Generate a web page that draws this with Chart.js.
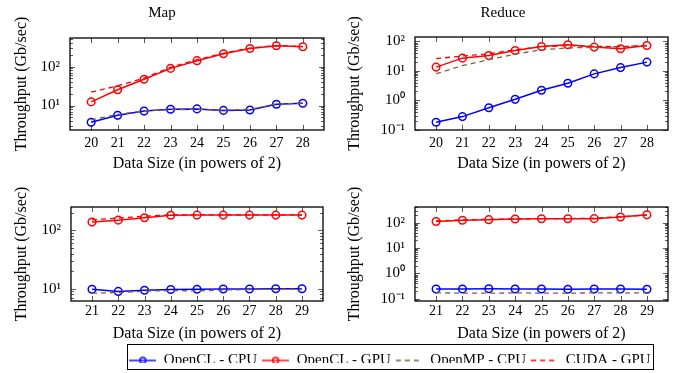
<!DOCTYPE html>
<html>
<head>
<meta charset="utf-8">
<script src="https://cdn.jsdelivr.net/npm/chart.js@4.4.1/dist/chart.umd.min.js"></script>
<style>
  body { margin: 0; background: #fff; width: 677px; height: 373px; position: relative; overflow: hidden; }
  canvas { position: absolute; }
  #legendBox { position: absolute; left: 127px; top: 344px; width: 525px; height: 24px; border: 1px solid #000; overflow: hidden; }
</style>
</head>
<body>
<canvas id="mapTop" width="338" height="175" style="left:0px;top:0px"></canvas>
<canvas id="reduceTop" width="339" height="175" style="left:338px;top:0px"></canvas>
<canvas id="mapBottom" width="338" height="170" style="left:0px;top:175px"></canvas>
<canvas id="reduceBottom" width="339" height="170" style="left:338px;top:175px"></canvas>
<div id="legendBox"><canvas id="legend" width="600" height="30" style="left:-38px;top:3px"></canvas></div>
<script>
// data sizes (powers of 2)
const sizesTop = [20, 21, 22, 23, 24, 25, 26, 27, 28];
const sizesBottom = [21, 22, 23, 24, 25, 26, 27, 28, 29];

// Map (top left), Gb/sec
const mapOclCpu  = [3.7, 5.6, 7.2, 8.0, 8.2, 7.5, 7.7, 10.8, 11.4];
const mapOclGpu  = [12.4, 25.5, 47.5, 90, 142, 214, 292, 342, 323];
const mapOmpCpu  = [4.3, 5.9, 7.3, 7.8, 8.0, 7.6, 8.0, 11.0, 11.5];
const mapCudaGpu = [22, 32, 51, 96, 150, 220, 300, 345, 330];

// Reduce (top right)
const redOclCpu  = [0.18, 0.28, 0.56, 1.08, 2.2, 3.8, 7.9, 12.9, 19.8];
const redOclGpu  = [13.4, 27, 33, 49, 67, 77, 64, 56, 73];
const redOmpCpu  = [8, 15, 24, 37, 52, 60, 63, 67, 72];
const redCudaGpu = [26, 32, 38, 52, 66, 72, 68, 66, 72];

// bottom left
const map2OclCpu  = [9.8, 9.0, 9.4, 9.7, 9.8, 9.9, 9.9, 10.0, 10.0];
const map2OclGpu  = [139, 150, 165, 182, 183, 183, 183, 183, 183];
const map2OmpCpu  = [8.4, 8.6, 9.1, 9.3, 9.2, 9.5, 9.7, 9.8, 9.9];
const map2CudaGpu = [152, 163, 175, 185, 185, 185, 184, 184, 184];

// bottom right
const red2OclCpu  = [0.24, 0.24, 0.245, 0.24, 0.24, 0.235, 0.24, 0.24, 0.235];
const red2OclGpu  = [112, 125, 132, 140, 143, 144, 145, 168, 205];
const red2OmpCpu  = [0.17, 0.165, 0.165, 0.17, 0.165, 0.165, 0.17, 0.17, 0.17];
const red2CudaGpu = [118, 130, 136, 142, 145, 146, 150, 175, 200];

const seriesNames = ['OpenCL - CPU', 'OpenCL - GPU', 'OpenMP - CPU', 'CUDA - GPU'];
const seriesColors = ['#0000ff', '#ff0000', '#80603a', '#ff0000'];
const seriesDash = [[], [], [5, 4], [5, 4]];
const seriesMarker = [true, true, false, false];

Chart.defaults.font.family = "'Liberation Serif', 'Times New Roman', serif";
Chart.defaults.color = '#000';

const SUP = { '-': '\u207B', '0': '\u2070', '1': '\u00B9', '2': '\u00B2', '3': '\u00B3',
  '4': '\u2074', '5': '\u2075', '6': '\u2076', '7': '\u2077', '8': '\u2078', '9': '\u2079' };
function isPow10(v) {
  const e = Math.log10(v);
  return Math.abs(e - Math.round(e)) < 1e-9;
}
function pow10Label(v) {
  const e = String(Math.round(Math.log10(v)));
  return '10' + e.split('').map(c => SUP[c]).join('');
}

// box with inward ticks on all four sides, like pgfplots
const frame = {
  id: 'frame',
  beforeDatasetsDraw(chart) {
    const { ctx, chartArea: a, scales: { x, y } } = chart;
    ctx.save();
    ctx.strokeStyle = '#333';
    ctx.lineWidth = 0.8;
    ctx.beginPath();
    y.ticks.forEach(t => {
      const py = Math.round(y.getPixelForValue(t.value)) + 0.5;
      const len = isPow10(t.value) ? 5 : 3;
      ctx.moveTo(a.left, py); ctx.lineTo(a.left + len, py);
      ctx.moveTo(a.right, py); ctx.lineTo(a.right - len, py);
    });
    x.ticks.forEach(t => {
      const px = Math.round(x.getPixelForValue(t.value)) + 0.5;
      ctx.moveTo(px, a.bottom); ctx.lineTo(px, a.bottom - 5);
      ctx.moveTo(px, a.top); ctx.lineTo(px, a.top + 5);
    });
    ctx.stroke();
    ctx.restore();
  },
  afterDraw(chart) {
    const { ctx, chartArea: a } = chart;
    ctx.save();
    ctx.strokeStyle = '#000';
    ctx.lineWidth = 1.3;
    ctx.strokeRect(a.left, a.top, a.right - a.left, a.bottom - a.top);
    ctx.restore();
  }
};

function logLimits(series) {
  const all = series.flat();
  const lo = Math.log10(Math.min(...all));
  const hi = Math.log10(Math.max(...all));
  const pad = (hi - lo) * 0.1;
  return [Math.pow(10, lo - pad), Math.pow(10, hi + pad)];
}

function makePanel(id, title, sizes, series, lay) {
  const [ymin, ymax] = logLimits(series);
  const datasets = series.map((vals, i) => ({
    label: seriesNames[i],
    data: sizes.map((s, j) => ({ x: s, y: vals[j] })),
    borderColor: seriesColors[i],
    borderWidth: seriesMarker[i] ? 1.5 : 1.3,
    borderDash: seriesDash[i],
    pointRadius: seriesMarker[i] ? 3.8 : 0,
    pointBorderWidth: 1.5,
    pointBorderColor: seriesColors[i],
    pointBackgroundColor: 'rgba(0,0,0,0)',
    fill: false,
    tension: 0,
    order: -i
  }));
  return new Chart(document.getElementById(id), {
    type: 'line',
    data: { datasets },
    plugins: [frame],
    options: {
      responsive: false,
      animation: false,
      devicePixelRatio: 1,
      layout: { padding: { left: 0, right: lay.right, top: lay.top, bottom: 0 } },
      plugins: {
        legend: { display: false },
        tooltip: { enabled: false },
        title: {
          display: !!title,
          text: title,
          font: { size: 15, weight: 'normal' },
          padding: { top: 4, bottom: lay.titleGap }
        }
      },
      scales: {
        x: {
          type: 'linear',
          bounds: 'data',
          min: sizes[0] - 0.8,
          max: sizes[sizes.length - 1] + 0.8,
          grid: { display: false, drawTicks: false },
          border: { display: false },
          afterBuildTicks: sc => { sc.ticks = sizes.map(v => ({ value: v })); },
          afterFit: sc => { sc.height = lay.xh; },
          ticks: { autoSkip: false, maxRotation: 0, padding: lay.tickPad, font: { size: 14 } },
          title: {
            display: true,
            text: 'Data Size (in powers of 2)',
            font: { size: 16 },
            padding: { top: 2, bottom: 2 }
          }
        },
        y: {
          type: 'logarithmic',
          bounds: 'data',
          min: ymin,
          max: ymax,
          grid: { display: false, drawTicks: false },
          border: { display: false },
          afterBuildTicks: sc => {
            const ticks = [];
            for (let e = Math.floor(Math.log10(ymin)); e <= Math.ceil(Math.log10(ymax)); e++) {
              for (let m = 1; m <= 9; m++) {
                const v = m * Math.pow(10, e);
                if (v >= ymin && v <= ymax) ticks.push({ value: v, major: m === 1 });
              }
            }
            sc.ticks = ticks;
          },
          afterFit: sc => { sc.width = lay.yw; },
          ticks: {
            autoSkip: false,
            padding: 10,
            font: { size: 15 },
            callback: v => isPow10(v) ? pow10Label(v) : ''
          },
          title: {
            display: true,
            text: 'Throughput (Gb/sec)',
            font: { size: 16 },
            padding: { top: lay.ytp, bottom: lay.ytp }
          }
        }
      }
    }
  });
}

makePanel('mapTop', 'Map', sizesTop, [mapOclCpu, mapOclGpu, mapOmpCpu, mapCudaGpu],
  { right: 14, top: 0, titleGap: 16, xh: 45, yw: 70, ytp: 12, tickPad: 5 });
makePanel('reduceTop', 'Reduce', sizesTop, [redOclCpu, redOclGpu, redOmpCpu, redCudaGpu],
  { right: 9, top: 0, titleGap: 15, xh: 45, yw: 77, ytp: 7, tickPad: 5 });
makePanel('mapBottom', '', sizesBottom, [map2OclCpu, map2OclGpu, map2OmpCpu, map2CudaGpu],
  { right: 15, top: 32, titleGap: 0, xh: 44, yw: 71, ytp: 12, tickPad: 2 });
makePanel('reduceBottom', '', sizesBottom, [red2OclCpu, red2OclGpu, red2OmpCpu, red2CudaGpu],
  { right: 9, top: 32, titleGap: 0, xh: 44, yw: 77, ytp: 7, tickPad: 2 });

// legend samples: short line, with an open circle for the OpenCL series
function legendSample(i) {
  const c = document.createElement('canvas');
  c.width = 27; c.height = 10;
  const g = c.getContext('2d');
  g.strokeStyle = seriesColors[i];
  g.lineWidth = 1.4;
  g.setLineDash(seriesDash[i]);
  g.beginPath(); g.moveTo(0, 5); g.lineTo(27, 5); g.stroke();
  if (seriesMarker[i]) {
    g.setLineDash([]);
    g.beginPath(); g.arc(13.5, 5, 3, 0, Math.PI * 2); g.stroke();
  }
  return c;
}

new Chart(document.getElementById('legend'), {
  type: 'line',
  data: { datasets: seriesNames.map(n => ({ label: n, data: [] })) },
  options: {
    responsive: false,
    animation: false,
    devicePixelRatio: 1,
    scales: { x: { display: false }, y: { display: false } },
    plugins: {
      tooltip: { enabled: false },
      legend: {
        position: 'top',
        labels: {
          font: { size: 15 },
          usePointStyle: true,
          pointStyleWidth: 27,
          padding: 5,
          generateLabels: () => seriesNames.map((n, i) => ({
            text: n,
            pointStyle: legendSample(i),
            fillStyle: 'rgba(0,0,0,0)',
            strokeStyle: 'rgba(0,0,0,0)',
            lineWidth: 0,
            hidden: false,
            datasetIndex: i
          }))
        }
      }
    }
  }
});
</script>
</body>
</html>
